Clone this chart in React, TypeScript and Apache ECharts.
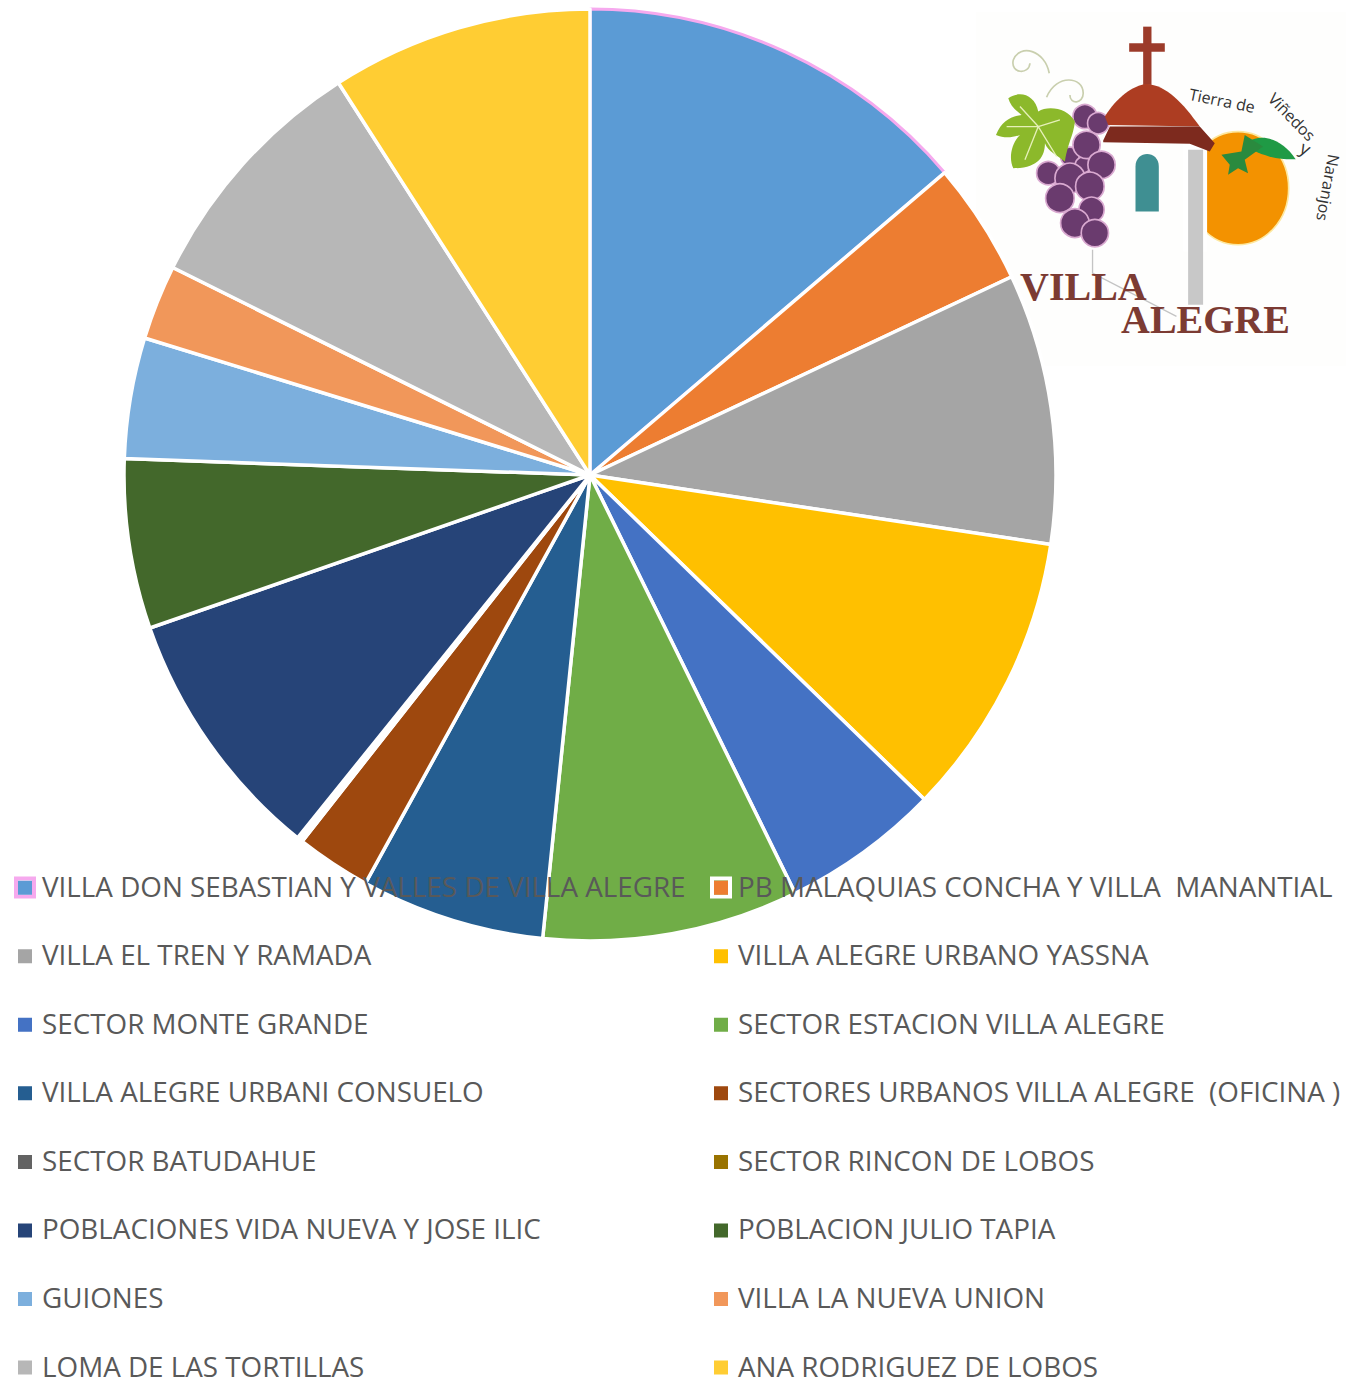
import React, { useEffect, useRef } from "react";
import * as echarts from "echarts";

const categories = [
  "VILLA DON SEBASTIAN Y VALLES DE VILLA ALEGRE",
  "PB MALAQUIAS CONCHA Y VILLA  MANANTIAL",
  "VILLA EL TREN Y RAMADA",
  "VILLA ALEGRE URBANO YASSNA",
  "SECTOR MONTE GRANDE",
  "SECTOR ESTACION VILLA ALEGRE",
  "VILLA ALEGRE URBANI CONSUELO",
  "SECTORES URBANOS VILLA ALEGRE  (OFICINA )",
  "SECTOR BATUDAHUE",
  "SECTOR RINCON DE LOBOS",
  "POBLACIONES VIDA NUEVA Y JOSE ILIC",
  "POBLACION JULIO TAPIA",
  "GUIONES",
  "VILLA LA NUEVA UNION",
  "LOMA DE LAS TORTILLAS",
  "ANA RODRIGUEZ DE LOBOS",
];
const values = [13.8, 4.25, 9.4, 9.9, 5.5, 8.9, 6.4, 2.6, 0.1, 0.1, 8.9, 5.9, 4.2, 2.6, 8.6, 9.1];
const colors = [
  "#5B9BD5", "#ED7D31", "#A5A5A5", "#FFC000", "#4472C4", "#70AD47", "#255E91", "#9E480E",
  "#636363", "#997300", "#264478", "#43682B", "#7CAFDD", "#F1975A", "#B7B7B7", "#FFCD33",
];

const PLAIN_ICON = "path://M0 0h.01v.01H0zM4 8h14v14H4zM21.99 25.99h.01v.01h-.01z";

const makeLegend = (left: number, remainder: number) => ({
  orient: "vertical",
  left,
  top: 871.7,
  height: 540,
  padding: 0,
  itemWidth: 22,
  itemHeight: 26,
  itemGap: 40.55,
  selectedMode: false,
  textStyle: {
    color: "#595959",
    fontFamily: "'Open Sans', sans-serif",
    fontSize: 27.8,
    lineHeight: 26,
    padding: [0, 0, 0, 1],
  },
  data: categories
    .map((_, i) => i)
    .filter((i) => i % 2 === remainder)
    .map((i) => ({ name: categories[i], icon: PLAIN_ICON, itemStyle: { borderWidth: 0 } })),
});

// Decorative logo, in a 3x drawing space placed over the top-right corner.
const LOGO_SHAPES: [string, string, string, string?, number?][] = [
  ["domeShape", "M405 320C440 262 490 226 530 222C590 225 640 280 690 350L415 345Z", "#AD3D22"],
  ["eaveShape", "M400 392L420 350L690 350L735 400L720 425L660 402L400 397Z", "#7D2A1E"],
  ["windowShape", "M497 605V470C497 420 567 420 567 470V605Z", "#3F8F92"],
  ["leafShape", "M825 405C860 370 930 375 978 448C930 450 870 440 825 405Z", "#1F9A45"],
  ["calyxShape", "M825 375L815 425L755 435L780 465L775 495L805 475L835 490L825 450L880 410Z", "#2A8A3E"],
  ["grapeLeafShape", "M115 265C150 240 195 255 205 305C235 285 295 295 315 335C310 380 295 395 285 455C260 435 235 425 225 400C225 440 205 475 130 475C115 445 125 400 150 375C125 385 100 385 78 375C95 335 120 320 155 315C135 300 120 285 115 265Z", "#8CB92B"],
  ["veinShape", "M205 350L150 290M205 350L270 330M205 350L110 350M205 350L165 450M205 350L260 440", "none", "#E6F0B8", 4],
  ["tendrilAShape", "M238 190C225 120 150 100 130 150C120 192 178 195 180 160", "none", "#C9CFAE", 5],
  ["tendrilBShape", "M230 262C260 190 340 200 340 250C340 282 300 285 300 255", "none", "#C9CFAE", 5],
  ["stemShape", "M368 720V790L620 920", "none", "#C4C4C4", 4],
];
LOGO_SHAPES.forEach(([name, d]) => {
  echarts.graphic.registerShape(name, echarts.graphic.extendPath(d, {}));
});

const GRAPES: [number, number, number][] = [
  [345, 320, 36], [385, 340, 32], [300, 440, 28], [340, 465, 24], [350, 405, 41], [395, 465, 41],
  [235, 490, 35], [300, 505, 45], [360, 530, 43], [270, 565, 43], [365, 600, 38], [315, 640, 43], [375, 670, 41],
];

const logoChildren: any[] = [
  { type: "ellipse", shape: { cx: 805, cy: 535, rx: 152, ry: 170 }, style: { fill: "#F39200", stroke: "#FDE8A0", lineWidth: 5 } },
  { type: "rect", shape: { x: 640, y: 355, width: 72, height: 370 }, style: { fill: "#FFFFFF" } },
  { type: "rect", shape: { x: 655, y: 420, width: 45, height: 465 }, style: { fill: "#C8C8C8" } },
  { type: "rect", shape: { x: 520, y: 50, width: 25, height: 175 }, style: { fill: "#9C3B2A" } },
  { type: "rect", shape: { x: 478, y: 100, width: 107, height: 25 }, style: { fill: "#9C3B2A" } },
  ...GRAPES.map(([cx, cy, r]) => ({
    type: "circle",
    shape: { cx, cy, r },
    style: { fill: "#6A3B6E", stroke: "#D9A9D0", lineWidth: 5 },
  })),
  ...LOGO_SHAPES.map(([type, , fill, stroke, lineWidth]) => ({
    type,
    style: { fill, stroke: stroke ?? "none", lineWidth: lineWidth ?? 0 },
  })),
];

const HAND_FONT = "'Open Sans', sans-serif";
const logoTexts = [
  { text: "VILLA", x: 1020, y: 266, size: 40, rot: 0, color: "#7C3B33", font: "'Liberation Serif', serif", weight: "bold" },
  { text: "ALEGRE", x: 1121, y: 299, size: 40, rot: 0, color: "#7C3B33", font: "'Liberation Serif', serif", weight: "bold" },
  { text: "Tierra de", x: 1191, y: 86, size: 16, rot: -0.2, color: "#333333", font: HAND_FONT, weight: "normal" },
  { text: "Viñedos", x: 1277, y: 90, size: 16, rot: -0.8, color: "#333333", font: HAND_FONT, weight: "normal" },
  { text: "y", x: 1306, y: 138, size: 18, rot: -0.5, color: "#333333", font: HAND_FONT, weight: "normal" },
  { text: "Naranjos", x: 1342, y: 156, size: 16, rot: -1.75, color: "#333333", font: HAND_FONT, weight: "normal" },
];

export default function App() {
  const ref = useRef<HTMLDivElement>(null);
  useEffect(() => {
    document.body.style.margin = "0";
    const chart = echarts.init(ref.current!, null, { renderer: "svg" });
    chart.setOption({
      animation: false,
      backgroundColor: "#FFFFFF",
      legend: [makeLegend(14, 0), makeLegend(710, 1)],
      series: [
        {
          type: "pie",
          center: [590, 475],
          radius: [0, 466],
          startAngle: 90,
          clockwise: true,
          label: { show: false },
          labelLine: { show: false },
          emphasis: { disabled: true },
          silent: true,
          itemStyle: { borderColor: "#FFFFFF", borderWidth: 3.5 },
          data: categories.map((name, i) => ({
            name,
            value: values[i],
            itemStyle:
              i === 0
                ? { color: colors[i], borderColor: "#F6A9EE", borderWidth: 3 }
                : { color: colors[i] },
          })),
        },
      ],
      graphic: {
        elements: [
          { type: "rect", z: 0, shape: { x: 976, y: 12, width: 370, height: 354 }, style: { fill: "#FEFEFD" } },
          { type: "group", x: 970, y: 10, scaleX: 1 / 3, scaleY: 1 / 3, children: logoChildren },
          { type: "rect", z: 3, shape: { x: 16, y: 878.5, width: 18, height: 18 }, style: { fill: "none", stroke: "#F6A9EE", lineWidth: 4 } },
          { type: "rect", z: 3, shape: { x: 712, y: 878.5, width: 18, height: 18 }, style: { fill: "none", stroke: "#FFFFFF", lineWidth: 4 } },
          ...logoTexts.map((t) => ({
            type: "text",
            x: t.x,
            y: t.y,
            rotation: t.rot,
            style: {
              text: t.text,
              fill: t.color,
              fontFamily: t.font,
              fontSize: t.size,
              fontWeight: t.weight,
            },
          })),
        ],
      },
    });
    return () => chart.dispose();
  }, []);
  return <div ref={ref} style={{ position: "absolute", left: 0, top: 0, width: 1346, height: 1378 }} />;
}
